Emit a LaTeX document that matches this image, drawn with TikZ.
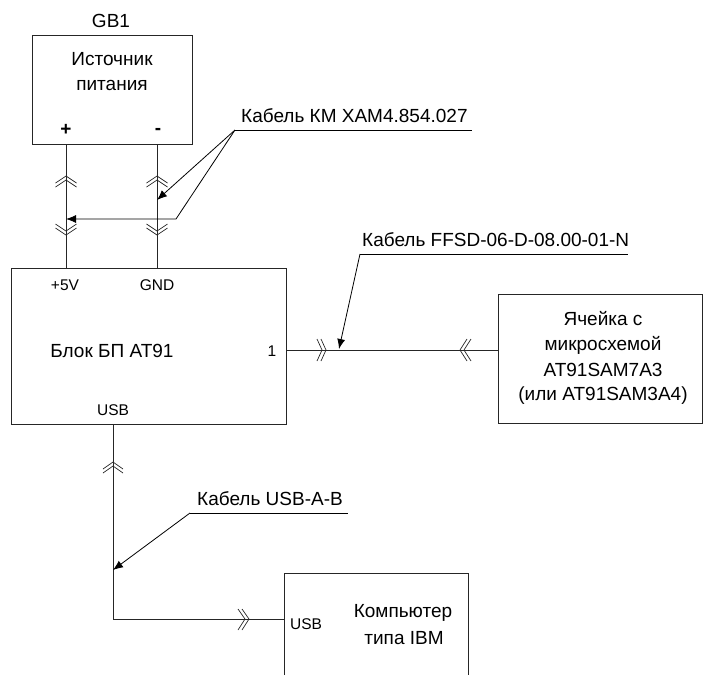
\documentclass[tikz,border=0pt]{standalone}
\usepackage{fontspec}
\usetikzlibrary{arrows.meta}
\setmainfont{Liberation Sans}
\begin{document}
\begin{tikzpicture}[x=1pt,y=-1pt,
  wire/.style={line width=0.8pt,black!85},
  txt/.style={inner sep=0pt,font=\fontsize{19}{22}\selectfont,align=center},
  small/.style={inner sep=0pt,font=\fontsize{15.5}{18}\selectfont,align=center},
  leader/.style={line width=0.8pt,black,-{Latex[length=10pt,width=8pt]}},
  chev/.style={line width=0.7pt,black!85},
  box/.style={line width=0.9pt,black!85}]
\useasboundingbox (0,0) rectangle (704,675);
% boxes
\coordinate (gbnw) at (32,35); \coordinate (gbse) at (192,144);
\draw[box] (gbnw) rectangle (gbse);
\coordinate (blnw) at (11,268); \coordinate (blse) at (286,424);
\draw[box] (blnw) rectangle (blse);
\coordinate (cenw) at (498,294); \coordinate (cese) at (702,423);
\draw[box] (cenw) rectangle (cese);
\coordinate (pcsw) at (284,675); \coordinate (pcnw) at (284,573);
\coordinate (pcne) at (468,573); \coordinate (pcse) at (468,675);
\draw[box] (pcsw) -- (pcnw) -- (pcne) -- (pcse);
% texts
\node[txt] (gb1) at (111,21) {GB1};
\node[txt] (src1) at (112,59) {Источник};
\node[txt] (src2) at (112,85) {питания};
\node[txt] (plus) at (66,130) {\textbf{+}};
\node[txt] (minus) at (158,131) {\textbf{-}};
\node[small] (v5) at (65,285) {+5V};
\node[small] (gnd) at (157,285) {GND};
\node[txt] (bl) at (112,351) {Блок БП AT91};
\node[small] (one) at (272,351) {1};
\node[small] (usb1) at (113,410) {USB};
\node[txt] (c1) at (603,319) {Ячейка с};
\node[txt] (c2) at (603,345) {микросхемой};
\node[txt] (c3) at (603,370) {AT91SAM7A3};
\node[txt] (c4) at (603,396) {(или AT91SAM3A4)};
\node[small] (usb2) at (306,624) {USB};
\node[txt] (pc1) at (403,613) {Компьютер};
\node[txt] (pc2) at (404,638) {типа IBM};
\node[txt,anchor=base west] (l1) at (241,122) {Кабель КМ ХАМ4.854.027};
\node[txt,anchor=base west] (l2) at (362,246) {Кабель FFSD-06-D-08.00-01-N};
\node[txt,anchor=base west] (l3) at (197,505) {Кабель USB-A-B};
% wires
\coordinate (pt) at (66,144); \coordinate (pb) at (66,268);
\coordinate (mt) at (157,144); \coordinate (mb) at (157,268);
\draw[wire] (pt) -- (pb);
\draw[wire] (mt) -- (mb);
\coordinate (o1) at (286,350); \coordinate (o2) at (498,350);
\draw[wire] (o1) -- (o2);
\coordinate (u1) at (113,424); \coordinate (uc) at (113,619); \coordinate (u2) at (284,619);
\draw[wire] (u1) -- (uc) -- (u2);
% chevrons
\foreach \x in {66,157}{
  \foreach \d in {0,4}{
    \draw[chev] (\x-10.5,183+\d) -- (\x,176+\d) -- (\x+10.5,183+\d);
    \draw[chev] (\x-10.5,224+\d) -- (\x,231+\d) -- (\x+10.5,224+\d);
  }
}
\foreach \d in {0,4}{
  \draw[chev] (103,469+\d) -- (113,462+\d) -- (123,469+\d);
  \draw[chev] (317+\d,339) -- (322+\d,350) -- (317+\d,361);
  \draw[chev] (467+\d,339) -- (460+\d,350) -- (467+\d,361);
  \draw[chev] (238+\d,609) -- (245+\d,619) -- (238+\d,630);
}
% leaders
\coordinate (k1) at (235,130); \coordinate (k1e) at (472,130);
\coordinate (k1b) at (176,219); \coordinate (k1a) at (157,200); \coordinate (k1c) at (66,219);
\draw[line width=0.8pt] (k1) -- (k1e);
\draw[leader] (k1) -- (k1a);
\draw[leader] (k1) -- (k1b) -- (k1c);
\coordinate (k2) at (360,254); \coordinate (k2e) at (628,254); \coordinate (k2a) at (339,349);
\draw[line width=0.8pt] (k2) -- (k2e);
\draw[leader] (k2) -- (k2a);
\coordinate (k3) at (190,513); \coordinate (k3e) at (348,513); \coordinate (k3a) at (113,570);
\draw[line width=0.8pt] (k3) -- (k3e);
\draw[leader] (k3) -- (k3a);
\end{tikzpicture}
\end{document}
